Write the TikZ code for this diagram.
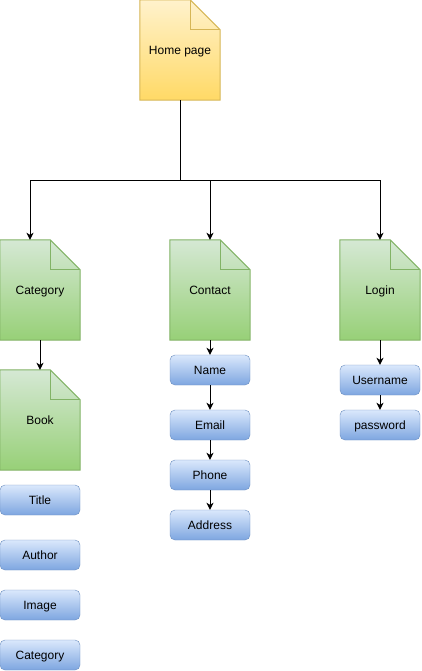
\documentclass[tikz,border=0pt]{standalone}
\usepackage{fontspec}
\setmainfont{Liberation Sans}
\usepackage{xcolor}
\usetikzlibrary{arrows.meta,backgrounds,calc}
\newcommand{\foldsz}{30pt}
\definecolor{ylwtop}{HTML}{FFF2CC}
\definecolor{ylwbot}{HTML}{FFD966}
\definecolor{ylwline}{HTML}{D6B656}
\definecolor{grntop}{HTML}{D5E8D4}
\definecolor{grnbot}{HTML}{97D077}
\definecolor{grnline}{HTML}{82B366}
\definecolor{blutop}{HTML}{DAE8FC}
\definecolor{blubot}{HTML}{7EA6E0}
\definecolor{bluline}{HTML}{6C8EBF}
\tikzset{
    txtsty/.style={font=\fontsize{12}{14}\selectfont,text height=10pt,text depth=1.5pt},
    pagesty/.style={rectangle,minimum width=80pt,minimum height=100pt,inner sep=0pt,txtsty},
    ylwsty/.style={draw=ylwline,top color=ylwtop,bottom color=ylwbot},
    grnsty/.style={draw=grnline,top color=grntop,bottom color=grnbot},
    fieldsty/.style={rectangle,rounded corners=5pt,draw=bluline,top color=blutop,bottom color=blubot,
                     minimum width=80pt,minimum height=30pt,inner sep=0pt,txtsty},
    arrsty/.style={-{Stealth[length=7pt,width=7pt,inset=2pt]},line width=1pt},
    linesty/.style={line width=1pt},
}
% page outline with folded corner, drawn behind the named node
\newcommand{\foldpage}[3]{%
  \draw[#2,line width=1pt] (#1.north west) -- ([xshift=-\foldsz]#1.north east)
       -- ([yshift=-\foldsz]#1.north east) -- (#1.south east) -- (#1.south west) -- cycle;
  \draw[draw=#3,line width=1pt] ([xshift=-\foldsz]#1.north east)
       |- ([yshift=-\foldsz]#1.north east);}

\begin{document}
\begin{tikzpicture}[x=1pt,y=-1pt]
  \useasboundingbox (0,0) rectangle (421,671);

  % pages
  \node[pagesty] (home)    at (180,50)  {Home page};
  \node[pagesty] (cat)     at (40,290)  {Category};
  \node[pagesty] (contact) at (210,290) {Contact};
  \node[pagesty] (login)   at (380,290) {Login};
  \node[pagesty] (book)    at (40,420)  {Book};

  \begin{pgfonlayer}{background}
    \foldpage{home}{ylwsty}{ylwline}
    \foreach \pg in {cat,contact,login,book}
      {\foldpage{\pg}{grnsty}{grnline}}
  \end{pgfonlayer}

  % fields
  \node[fieldsty] (title)    at (40,500)  {Title};
  \node[fieldsty] (author)   at (40,555)  {Author};
  \node[fieldsty] (image)    at (40,605)  {Image};
  \node[fieldsty] (category) at (40,655)  {Category};

  \node[fieldsty] (name)    at (210,370) {Name};
  \node[fieldsty] (email)   at (210,425) {Email};
  \node[fieldsty] (phone)   at (210,475) {Phone};
  \node[fieldsty] (address) at (210,525) {Address};

  \node[fieldsty] (user) at (380,380) {Username};
  \node[fieldsty] (pass) at (380,425) {password};

  % connectors
  \coordinate (hub) at (180,180);
  \draw[linesty] (home.south) -- (hub);
  \draw[arrsty] (hub) -| ([xshift=-10pt]cat.north);
  \draw[arrsty] (hub) -| (contact.north);
  \draw[arrsty] (hub) -| (login.north);

  \draw[arrsty] (cat) -- (book);
  \draw[arrsty] (contact) -- (name);
  \draw[arrsty] (name) -- (email);
  \draw[arrsty] (email) -- (phone);
  \draw[arrsty] (phone) -- (address);
  \draw[arrsty] (login) -- (user);
  \draw[arrsty] (user) -- (pass);
\end{tikzpicture}
\end{document}
